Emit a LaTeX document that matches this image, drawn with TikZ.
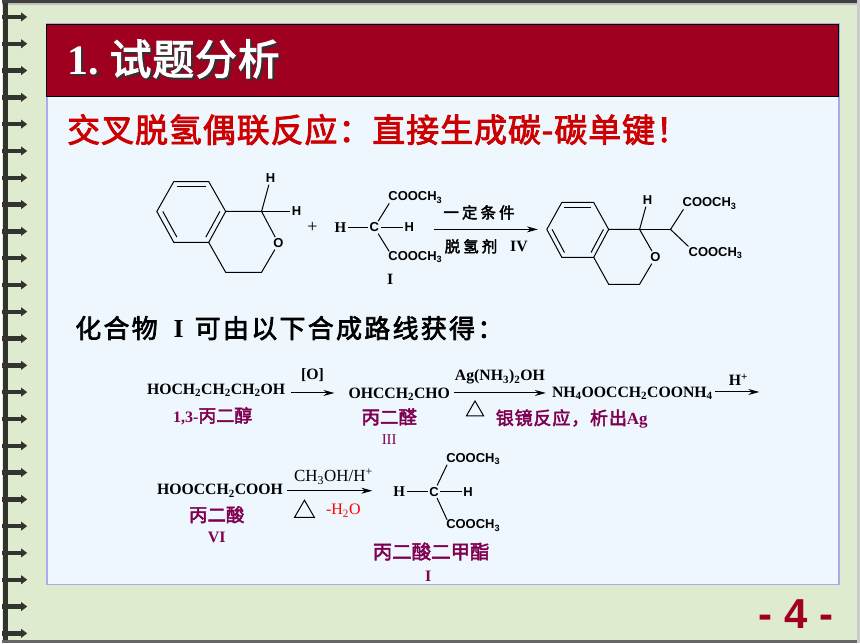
\documentclass[tikz,border=0pt]{standalone}
\usepackage{fontspec}
\setmainfont{Liberation Serif}
\setsansfont{Liberation Sans}
\newfontfamily\cjk[UprightFont=*, BoldFont=*, BoldFeatures={FakeBold=2.6}]{Noto Sans CJK SC}
\usetikzlibrary{arrows.meta, calc, shapes.geometric}
\definecolor{paper}{HTML}{DFEBCE}
\definecolor{panel}{HTML}{EFF7FE}
\definecolor{frame}{HTML}{ABABEA}
\definecolor{band}{HTML}{A00020}
\definecolor{plum}{HTML}{800050}
\definecolor{wire}{HTML}{34342E}
\newcommand{\sbs}[1]{\textsubscript{#1}}
\newcommand{\sps}[1]{\textsuperscript{#1}}
\begin{document}
\begin{tikzpicture}[x=1pt, y=-1pt]
\tikzstyle{formula}=[font=\fontsize{15.8}{18}\selectfont\bfseries, inner sep=0pt, anchor=west]
\tikzstyle{cond}=[font=\fontsize{15.8}{17}\selectfont\bfseries, inner sep=0pt]
\tikzstyle{atom}=[font=\sffamily\fontsize{13}{15}\selectfont\bfseries, inner sep=1.5pt]
\tikzstyle{ester}=[font=\sffamily\fontsize{13}{15}\selectfont\bfseries, inner sep=0pt, anchor=west]
\tikzstyle{serifatom}=[font=\fontsize{15}{17}\selectfont\bfseries, inner sep=1.5pt]
\tikzstyle{label plum}=[font=\fontsize{18.5}{20}\selectfont\bfseries, text=plum, inner sep=0pt]
\tikzstyle{bond}=[line width=1pt]
\tikzstyle{reaction}=[line width=1pt, -{Stealth[length=11pt, width=6pt]}]
\tikzstyle{heat}=[regular polygon, regular polygon sides=3, draw, line width=1pt, inner sep=0pt]

\fill[paper] (0,0) rectangle (860,645);
\fill[black!75] (0,0) rectangle (860,3);
\fill[black!25] (0,3) rectangle (860,5);
\fill[black!60] (0,642) rectangle (860,645);
\fill[black!20] (857,0) rectangle (860,645);
\fill[wire] (1,3) rectangle (6,642);

\foreach \k in {0,...,23} {
\draw[wire, line width=4.5pt] (0,17+26.87*\k) -- (20,17+26.87*\k);
\fill[wire] (19,17+26.87*\k-4.5) -- (25,17+26.87*\k) -- (19,17+26.87*\k+4.5) -- cycle;
}

\fill[panel, draw=frame, line width=1.8pt] (45,24) rectangle (839,586);
\fill[band, draw=black, line width=0.7pt] (44,24) rectangle (838,97);

\node[anchor=west, inner sep=0pt, text=black!80, font=\fontsize{42}{44}\selectfont\bfseries] at (67,61) {1.\hspace{11pt}{\cjk\addfontfeature{LetterSpace=2}试题分析}};
\node[anchor=west, inner sep=0pt, text=white, font=\fontsize{42}{44}\selectfont\bfseries] (title) at (65,59) {1.\hspace{11pt}{\cjk\addfontfeature{LetterSpace=2}试题分析}};

\node[anchor=west, inner sep=0pt, text=red!80!black, font=\cjk\fontsize{33}{36}\selectfont\bfseries] (headline) at (65,130) {\addfontfeature{LetterSpace=3}交叉脱氢偶联反应：直接生成碳-碳单键！};
\node[anchor=west, inner sep=0pt, font=\fontsize{26}{28}\selectfont\bfseries] (routehead) at (73,329) {{\cjk\addfontfeature{LetterSpace=9}化合物}\hspace{16pt}I\hspace{11pt}{\cjk\addfontfeature{LetterSpace=9}可由以下合成路线获得：}};

\foreach \n/\x/\y in {a/172/182, b/207/182, c/224/212, d/207/243, e/172/243, f/155/212, g/224/273, h/260/273, k/260/212} {
\coordinate (\n) at (\x,\y);
}
\coordinate (m) at (190,212);
\node[atom] (ox) at (277,244) {O};
\node[atom] (ha) at (269,179) {H};
\node[atom] (hb) at (295,212) {H};
\draw[bond] (a) -- (b) -- (c) -- (d) -- (e) -- (f) -- (a);
\draw[bond] ($(a)!.17!(m)$) -- ($(b)!.17!(m)$);
\draw[bond] ($(c)!.17!(m)$) -- ($(d)!.17!(m)$);
\draw[bond] ($(e)!.17!(m)$) -- ($(f)!.17!(m)$);
\draw[bond] (c) -- (k) -- (ox) -- (h) -- (g) -- (d);
\draw[bond] (k) -- (ha);
\draw[bond] (k) -- (hb);
\node[font=\fontsize{18}{20}\selectfont, inner sep=0pt] (plus) at (311,228) {+};

\node[atom] (ca) at (373,228) {C};
\node[serifatom] (hc) at (339,228) {H};
\node[atom] (hd) at (408,228) {H};
\node[ester] (ea) at (387,198) {COOCH\sbs{3}};
\node[ester] (eb) at (387,258) {COOCH\sbs{3}};
\draw[bond] (hc) -- (ca);
\draw[bond] (ca) -- (hd);
\draw[bond] (ca) -- ([xshift=1pt]ea.south west);
\draw[bond] (ca) -- ([xshift=1pt]eb.north west);
\node[cond] (roma) at (389,280) {I};

\coordinate (arrowa) at (433,230);
\coordinate (arrowb) at (537,230);
\draw[reaction] (arrowa) -- (arrowb);
\node[inner sep=0pt, font=\cjk\fontsize{15.5}{17}\selectfont\bfseries] (conda) at (478,213) {\addfontfeature{LetterSpace=20}一定条件};
\node[inner sep=0pt, font=\cjk\fontsize{15.5}{17}\selectfont\bfseries] (condb) at (470,247) {\addfontfeature{LetterSpace=20}脱氢剂};
\node[cond] (romb) at (518,247) {IV};

\foreach \n/\x/\y in {p/561/203, q/593/203, r/608/230, s/593/258, t/561/258, u/546/230, v/608/285, w/639/285, z/639/230, y/670/230} {
\coordinate (\n) at (\x,\y);
}
\coordinate (l) at (577,230);
\node[atom] (oy) at (655,258) {O};
\node[atom] (he) at (647,201) {H};
\node[ester] (ec) at (682,204) {COOCH\sbs{3}};
\node[ester] (ed) at (688,254) {COOCH\sbs{3}};
\draw[bond] (p) -- (q) -- (r) -- (s) -- (t) -- (u) -- (p);
\draw[bond] ($(p)!.17!(l)$) -- ($(q)!.17!(l)$);
\draw[bond] ($(r)!.17!(l)$) -- ($(s)!.17!(l)$);
\draw[bond] ($(t)!.17!(l)$) -- ($(u)!.17!(l)$);
\draw[bond] (r) -- (z) -- (oy) -- (w) -- (v) -- (s);
\draw[bond] (z) -- (he);
\draw[bond] (z) -- (y);
\draw[bond] (y) -- ([xshift=1pt]ec.south west);
\draw[bond] (y) -- ([xshift=0pt,yshift=1pt]ed.north west);

\node[formula] (diol) at (145,391) {HOCH\sbs{2}CH\sbs{2}CH\sbs{2}OH};
\node[formula] (dial) at (347,395) {OHCCH\sbs{2}CHO};
\node[formula] (salt) at (551,394) {NH\sbs{4}OOCCH\sbs{2}COONH\sbs{4}};
\node[formula] (acid) at (155,492) {HOOCCH\sbs{2}COOH};

\coordinate (ga) at (290,394);
\coordinate (gb) at (333,394);
\coordinate (gc) at (453,394);
\coordinate (gd) at (545,394);
\coordinate (ge) at (715,393);
\coordinate (gf) at (759,393);
\coordinate (gg) at (285,492);
\coordinate (gh) at (371,492);
\draw[reaction] (ga) -- (gb);
\draw[reaction] (gc) -- (gd);
\draw[reaction] (ge) -- (gf);
\draw[reaction] (gg) -- (gh);

\node[cond] (oxid) at (311,376) {[O]};
\node[cond] (tollens) at (499,378) {Ag(NH\sbs{3})\sbs{2}OH};
\node[cond] (proton) at (738,381) {H\sps{+}};
\node[inner sep=0pt, font=\fontsize{17}{19}\selectfont] (meoh) at (332,478) {CH\sbs{3}OH/H\sps{+}};
\node[heat, minimum size=20pt] (heata) at (474,412) {};
\node[heat, minimum size=23pt] (heatb) at (303,513) {};
\node[inner sep=0pt, text=red, font=\fontsize{16}{18}\selectfont] (water) at (342,512) {-H\sbs{2}O};

\node[label plum] (diolname) at (211,417) {\fontsize{16}{18}\selectfont 1,3-{\cjk\fontsize{18}{20}\selectfont 丙二醇}};
\node[label plum] (dialname) at (388,418) {\cjk 丙二醛};
\node[inner sep=0pt, text=plum, font=\fontsize{15}{17}\selectfont] (romc) at (388,441) {III};
\node[label plum] (mirror) at (571,420) {{\cjk\fontsize{18}{20}\selectfont\addfontfeature{LetterSpace=5}银镜反应，析出}\fontsize{17}{19}\selectfont Ag};
\node[label plum] (acidname) at (215,516) {\cjk 丙二酸};
\node[label plum, font=\fontsize{16}{18}\selectfont\bfseries] (romd) at (215,539) {VI};

\node[atom] (cb) at (433,493) {C};
\node[serifatom] (hf) at (398,493) {H};
\node[atom] (hg) at (467,493) {H};
\node[ester] (ee) at (445,460) {COOCH\sbs{3}};
\node[ester] (ef) at (445,527) {COOCH\sbs{3}};
\draw[bond] (hf) -- (cb);
\draw[bond] (cb) -- (hg);
\draw[bond] (cb) -- ([xshift=1pt]ee.south west);
\draw[bond] (cb) -- ([xshift=1pt]ef.north west);
\node[label plum, font=\fontsize{19.5}{22}\selectfont\bfseries] (estername) at (430,553) {\cjk 丙二酸二甲酯};
\node[label plum, font=\fontsize{16}{18}\selectfont\bfseries] (rome) at (427,578) {I};

\node[inner sep=0pt, text=band, font=\sffamily\fontsize{42}{44}\selectfont\bfseries] (page) at (796,616) {- 4 -};

\useasboundingbox (0,0) rectangle (860,645);
\end{tikzpicture}
\end{document}
